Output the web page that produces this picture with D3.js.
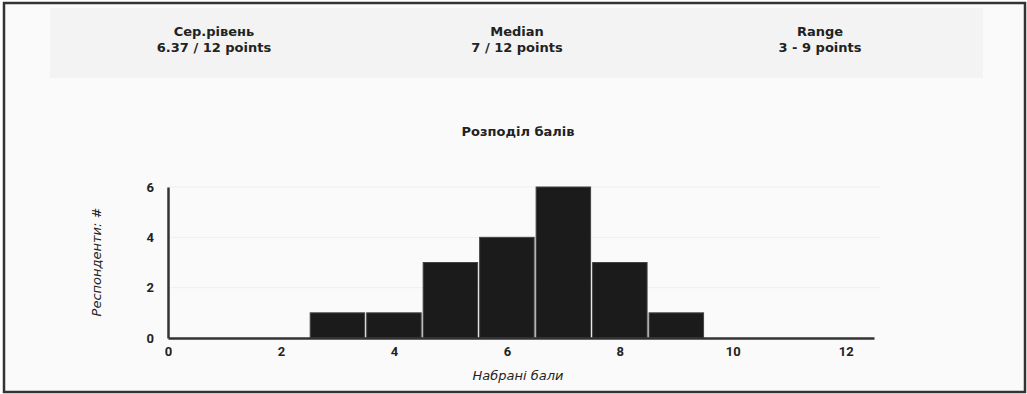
<!DOCTYPE html>
<html>
<head>
<meta charset="utf-8">
<script src="https://cdn.jsdelivr.net/npm/d3@7"></script>
<style>
  html, body { margin: 0; padding: 0; background: #ffffff; }
  svg { display: block; font-family: "DejaVu Sans", sans-serif; }
</style>
</head>
<body>
<svg id="chart" width="1027" height="394"></svg>
<script>
// Summary statistics shown in the header band
const statTitles = ["Сер.рівень", "Median", "Range"];
const statValues = ["6.37 / 12 points", "7 / 12 points", "3 - 9 points"];

// Score histogram: points scored and number of respondents per score
const scores = [3, 4, 5, 6, 7, 8, 9];
const respondents = [1, 1, 3, 4, 6, 3, 1];

const xTicks = [0, 2, 4, 6, 8, 10, 12];
const yTicks = [0, 2, 4, 6];

const chartTitle = "Розподіл балів";
const xTitle = "Набрані бали";
const yTitle = "Респонденти: #";

const svg = d3.select("#chart");
const W = 1027, H = 394;

// Page background and frame
svg.append("rect").attr("x", 0).attr("y", 0).attr("width", W).attr("height", H).attr("fill", "#ffffff");
svg.append("rect").attr("x", 4).attr("y", 3).attr("width", W - 6).attr("height", H - 5)
  .attr("fill", "#fafafa").attr("stroke", "#333").attr("stroke-width", 2.5);

// Header band with the three statistics
svg.append("rect").attr("x", 50).attr("y", 8).attr("width", 933).attr("height", 70).attr("fill", "#f3f3f3");
const statX = d3.scalePoint().domain(statTitles).range([214, 820]);
const stats = svg.append("g").selectAll("g").data(statTitles).join("g")
  .attr("transform", d => `translate(${statX(d)},0)`);
stats.append("text").attr("y", 36).attr("text-anchor", "middle")
  .attr("font-size", 13).attr("font-weight", "bold").attr("fill", "#222").text(d => d);
stats.append("text").attr("y", 52).attr("text-anchor", "middle")
  .attr("font-size", 13).attr("font-weight", "bold").attr("fill", "#222")
  .text((d, i) => statValues[i]);

// Histogram scales
const x = d3.scaleLinear().domain([0, 12.5]).range([168, 874]);
const y = d3.scaleLinear().domain([0, 6]).range([338, 187]);

svg.append("text").attr("x", 518).attr("y", 136).attr("text-anchor", "middle")
  .attr("font-size", 13).attr("font-weight", "bold").attr("fill", "#222").text(chartTitle);

// Faint horizontal gridlines
svg.append("g").selectAll("line").data(yTicks.filter(d => d > 0)).join("line")
  .attr("x1", x(0)).attr("x2", 880)
  .attr("y1", d => y(d)).attr("y2", d => y(d))
  .attr("stroke", "#efefef").attr("stroke-width", 1);

// Bars, one unit wide, centred on each score
svg.append("g").selectAll("rect").data(scores).join("rect")
  .attr("x", d => x(d - 0.5) + 1)
  .attr("width", d => x(d + 0.5) - x(d - 0.5) - 2)
  .attr("y", (d, i) => y(respondents[i]))
  .attr("height", (d, i) => y(0) - y(respondents[i]))
  .attr("fill", "#1b1b1b").attr("stroke", "#444").attr("stroke-width", 1);

// Axes
const xAxis = svg.append("g").attr("transform", `translate(0,${y(0)})`)
  .call(d3.axisBottom(x).tickValues(xTicks).tickSize(0).tickPadding(9).tickFormat(d3.format("d")));
const yAxis = svg.append("g").attr("transform", `translate(${x(0)},0)`)
  .call(d3.axisLeft(y).tickValues(yTicks).tickSize(0).tickPadding(14).tickFormat(d3.format("d")));
[xAxis, yAxis].forEach(a => {
  a.select(".domain").attr("stroke", "#333").attr("stroke-width", 2.5);
  a.selectAll("text").attr("font-size", 13).attr("font-weight", "bold").attr("fill", "#222")
    .attr("font-family", "Roboto, sans-serif");
});

// Axis titles
svg.append("text").attr("x", 518).attr("y", 380).attr("text-anchor", "middle")
  .attr("font-size", 13).attr("font-style", "italic").attr("fill", "#222").text(xTitle);
svg.append("text").attr("transform", "translate(101,262) rotate(-90)").attr("text-anchor", "middle")
  .attr("font-size", 13).attr("font-style", "italic").attr("fill", "#222").text(yTitle);
</script>
</body>
</html>
